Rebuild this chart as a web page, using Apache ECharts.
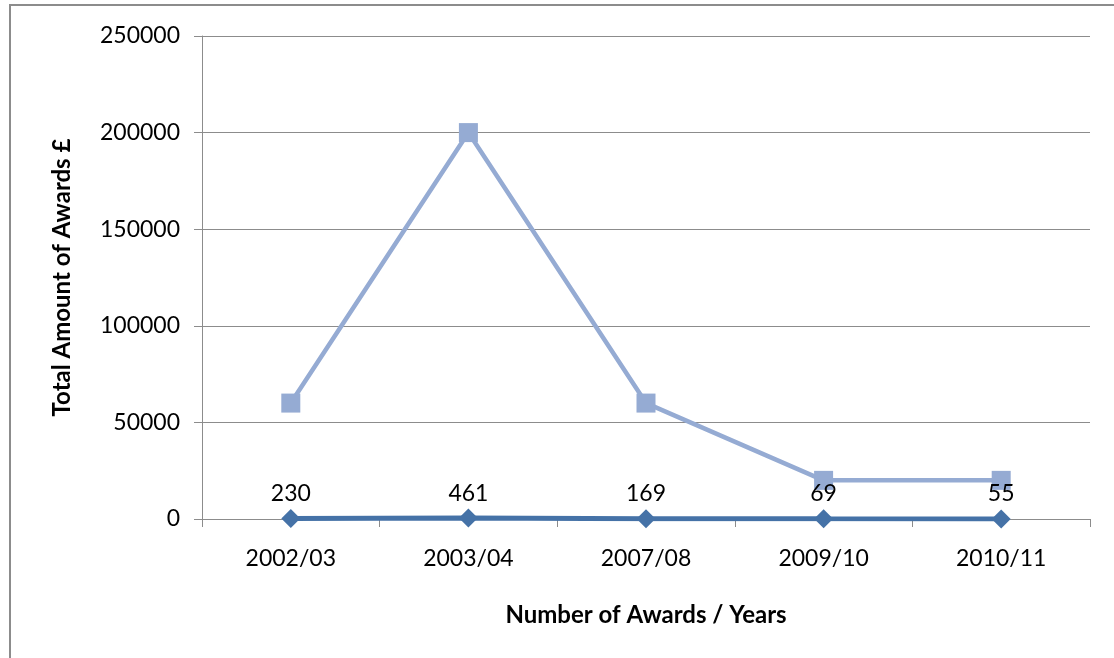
<!DOCTYPE html>
<html>
<head>
<meta charset="utf-8">
<script src="https://cdn.jsdelivr.net/npm/echarts@6/dist/echarts.min.js"></script>
<style>
  html, body { margin: 0; padding: 0; background: #fff; }
  #frame { position: absolute; left: 9px; top: 4px; width: 1120px; height: 680px; border: 2px solid #8c8c8c; box-sizing: border-box; }
  #main { position: absolute; left: 0; top: 0; width: 1114px; height: 658px; }
</style>
</head>
<body>
<div id="frame"></div>
<div id="main"></div>
<script>
// categories and values
var years = ['2002/03', '2003/04', '2007/08', '2009/10', '2010/11']
var awardCount = [230, 461, 169, 69, 55]
var awardTotal = [60000, 200000, 60000, 20000, 20000]

var font = 'Lato, "Open Sans", sans-serif'
var myChart = echarts.init(document.getElementById('main'))

var option = {
    animation: false,
    grid: { left: 202, right: 24, top: 36, bottom: 139, containLabel: false },
    xAxis: {
        type: 'category',
        data: years,
        boundaryGap: true,
        name: 'Number of Awards / Years',
        nameLocation: 'middle',
        nameGap: 84,
        nameTextStyle: { fontFamily: font, fontSize: 24, fontWeight: 'bold', color: '#000' },
        axisLine: { lineStyle: { color: '#8c8c8c', width: 1 } },
        axisTick: { show: true, alignWithLabel: false, length: 8, inside: false, lineStyle: { color: '#8c8c8c' } },
        axisLabel: { fontFamily: font, fontSize: 23, color: '#000', margin: 28 }
    },
    yAxis: {
        type: 'value',
        min: 0,
        max: 250000,
        interval: 50000,
        name: 'Total Amount of Awards £',
        nameLocation: 'middle',
        nameGap: 128,
        nameTextStyle: { fontFamily: font, fontSize: 24, fontWeight: 'bold', color: '#000' },
        axisLine: { show: true, lineStyle: { color: '#8c8c8c', width: 1 } },
        axisTick: { show: true, length: 8, lineStyle: { color: '#8c8c8c' } },
        axisLabel: {
            fontFamily: font, fontSize: 23, color: '#000', margin: 22,
            formatter: function (v) { return String(v) }
        },
        splitLine: { lineStyle: { color: '#8c8c8c', width: 1 } }
    },
    series: [
        {
            name: 'Total Amount',
            type: 'line',
            data: awardTotal,
            symbol: 'rect',
            symbolSize: 19,
            lineStyle: { color: '#95abd3', width: 4.5 },
            itemStyle: { color: '#95abd3' },
            z: 2
        },
        {
            name: 'Number of Awards',
            type: 'line',
            data: awardCount,
            symbol: 'diamond',
            symbolSize: 19,
            lineStyle: { color: '#4572a7', width: 5 },
            itemStyle: { color: '#4572a7' },
            label: {
                show: true,
                position: 'top',
                distance: 4,
                fontFamily: font,
                fontSize: 23,
                color: '#000'
            },
            z: 3
        }
    ]
}
myChart.setOption(option)
</script>
</body>
</html>
